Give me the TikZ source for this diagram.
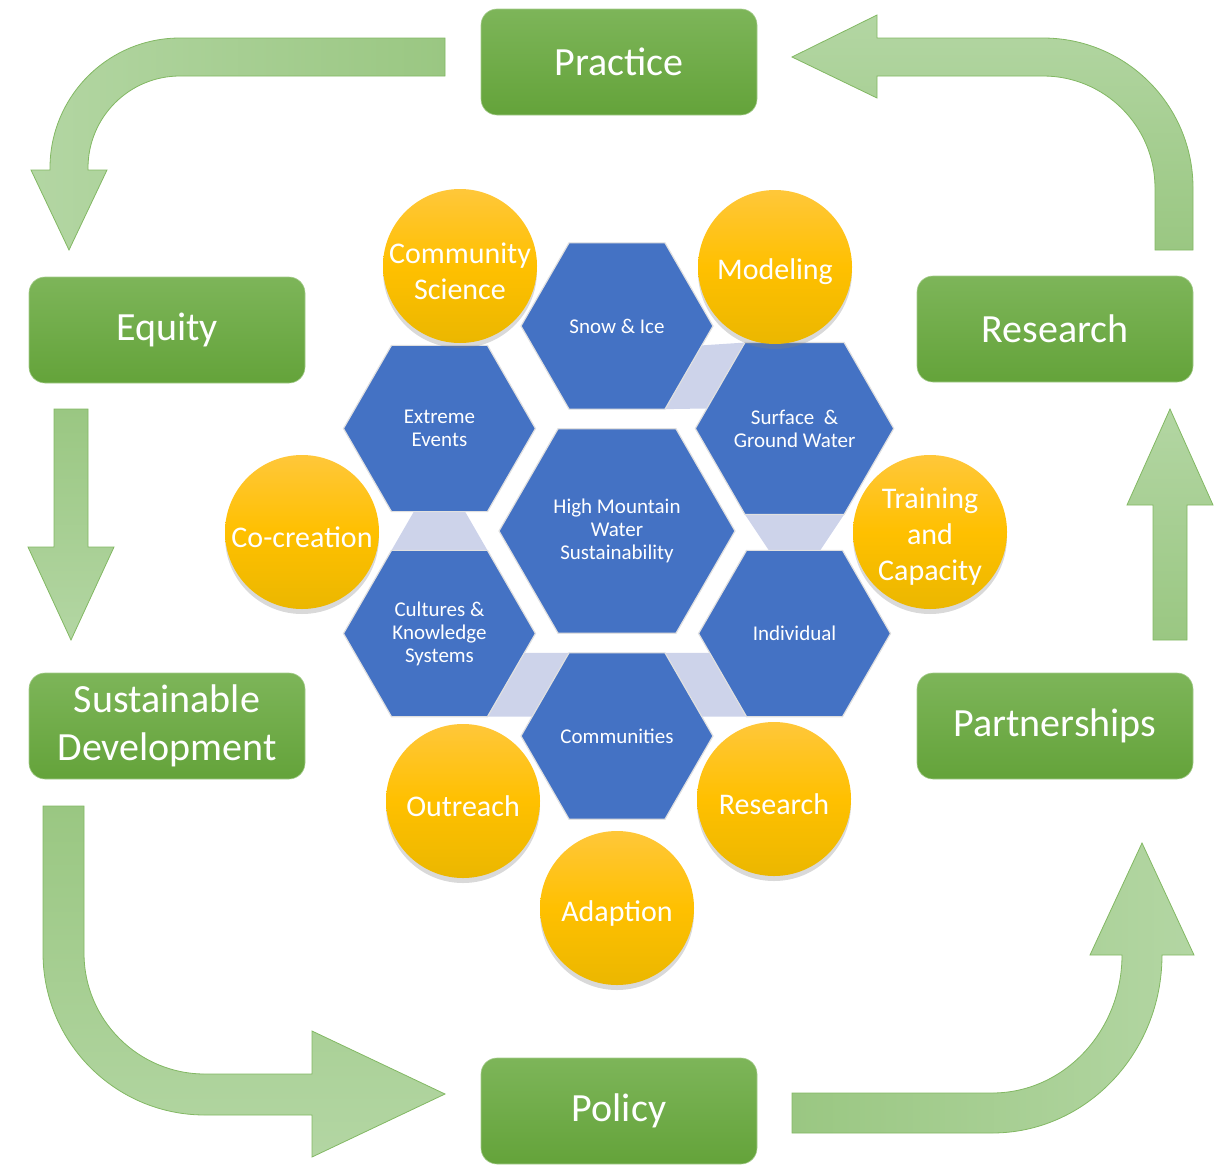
\documentclass[tikz,border=0pt]{standalone}
\usepackage{fontspec}
\setmainfont{Carlito}
\usepackage{tikz}
\usetikzlibrary{positioning,shapes,shadows,calc}
\pgfdeclarelayer{background}
\pgfdeclarelayer{foreground}
\pgfsetlayers{background,main,foreground}
\definecolor{boxtop}{HTML}{7DB559}
\definecolor{boxbot}{HTML}{64A33A}
\definecolor{hexblue}{HTML}{4472C4}
\definecolor{linkblue}{HTML}{CDD3EA}
\definecolor{goldtop}{HTML}{FFC73A}
\definecolor{goldmid}{HTML}{FFC000}
\definecolor{goldbot}{HTML}{EBB700}
\definecolor{arrowdark}{HTML}{9AC782}
\definecolor{arrowlight}{HTML}{B3D6A3}
\definecolor{arrowline}{HTML}{82B863}

\begin{document}
\begin{tikzpicture}[x=1pt,y=-1pt,
    stage/.style={rectangle, rounded corners=16pt, minimum width=276pt, minimum height=106pt,
        top color=boxtop, bottom color=boxbot, draw=boxtop!70!white, line width=0.6pt,
        text=white, align=center, font=\fontsize{40}{48}\selectfont},
    hexa/.style={regular polygon, regular polygon sides=6, minimum size=192pt, inner sep=0pt, outer sep=0pt,
        fill=hexblue, draw=white!88!black, line width=1.2pt, text=white, align=center,
        font=\fontsize{21}{23}\selectfont},
    hexlink/.style={fill=linkblue},
    ball/.style={circle, minimum size=154pt, inner sep=0pt, top color=goldtop, bottom color=goldbot, middle color=goldmid,
        drop shadow={shadow xshift=0pt, shadow yshift=-5pt, opacity=0.3}},
    balltext/.style={text=white, align=center, yshift=-5pt, font=\fontsize{30}{36}\selectfont},
    bigarrow/.style={draw=arrowline, line width=0.8pt, line join=miter}]
\useasboundingbox (0,0) rectangle (1230,1167);

\node[stage] (practice) at (619,62) {Practice};
\node[stage] (equity) at (167,330) {Equity};
\node[stage] (research) at (1055,329) {Research};
\node[stage] (sustdev) at (167,726) {Sustainable\\Development};
\node[stage] (partner) at (1055,726) {Partnerships};
\node[stage] (policy) at (619,1111) {Policy};

\path[bigarrow, left color=arrowlight, right color=arrowdark]
    (445,38) -- (180,38) arc[start angle=270, end angle=180, radius=130] -- (50,170) -- (31,170) -- (69,250)
    -- (107,170) -- (88,170) -- (88,168) arc[start angle=180, end angle=270, radius=92] -- (445,76) -- cycle;
\path[bigarrow, top color=arrowdark, bottom color=arrowlight]
    (54,409) -- (88,409) -- (88,547) -- (114,547) -- (71,640) -- (28,547) -- (54,547) -- cycle;
\path[bigarrow, top color=arrowdark, bottom color=arrowlight]
    (43,806) -- (43,953) arc[start angle=180, end angle=90, radius=162] -- (312,1115) -- (312,1157) -- (445,1094)
    -- (312,1031) -- (312,1074) -- (205,1074) arc[start angle=90, end angle=180, radius=121] -- (84,806) -- cycle;
\path[bigarrow, left color=arrowdark, right color=arrowlight]
    (792,1093) -- (992,1093) arc[start angle=90, end angle=0, x radius=130, y radius=138] -- (1090,955) -- (1142,843)
    -- (1194,955) -- (1162,955) arc[start angle=0, end angle=90, x radius=170, y radius=178] -- (792,1133) -- cycle;
\path[bigarrow, bottom color=arrowdark, top color=arrowlight]
    (1153,640) -- (1153,505) -- (1127,505) -- (1170,409) -- (1213,505) -- (1187,505) -- (1187,640) -- cycle;
\path[bigarrow, bottom color=arrowdark, top color=arrowlight]
    (1155,250) -- (1155,188) arc[start angle=0, end angle=-90, radius=112] -- (877,76) -- (877,98) -- (792,57)
    -- (877,15) -- (877,38) -- (1043,38) arc[start angle=-90, end angle=0, radius=150] -- (1193,250) -- cycle;

\node[hexa, minimum size=236pt] (hmw) at (617,531) {High Mountain\\Water\\Sustainability};
\node[hexa] (snow) at ($(hmw)+(-90:205)$) {Snow \& Ice};
\node[hexa] (surface) at ($(hmw)+(-30:205)$) {Surface \ \&\\Ground Water};
\node[hexa] (individual) at ($(hmw)+(30:205)$) {Individual};
\node[hexa] (comm) at ($(hmw)+(90:205)$) {Communities};
\node[hexa] (cultures) at ($(hmw)+(150:205)$) {Cultures \&\\Knowledge\\Systems};
\node[hexa] (extreme) at ($(hmw)+(210:205)$) {Extreme\\Events};

\begin{pgfonlayer}{background}
\path[hexlink] ($(snow.0)!0.233!(snow.300)$) -- (surface.120) -- ($(surface.120)!0.767!(surface.180)$) -- (snow.300) -- cycle;
\path[hexlink] ($(cultures.0)!0.233!(cultures.300)$) -- (comm.120) -- ($(comm.120)!0.767!(comm.180)$) -- (cultures.300) -- cycle;
\path[hexlink] ($(individual.180)!0.233!(individual.240)$) -- (comm.60) -- ($(comm.60)!0.767!(comm.0)$) -- (individual.240) -- cycle;
\path[hexlink] ($(extreme.240)!0.233!(extreme.300)$) -- ($(extreme.240)!0.767!(extreme.300)$) -- (cultures.60) -- (cultures.120) -- cycle;
\path[hexlink] (surface.240) -- (surface.300) -- ($(individual.120)!0.767!(individual.60)$) -- ($(individual.120)!0.233!(individual.60)$) -- cycle;
\end{pgfonlayer}

\node[ball, label={[balltext]center:Community\\Science}] (commsci) at (460,266) {};
\node[ball, label={[balltext]center:Modeling}] (modeling) at (775,267) {};
\node[ball, label={[balltext]center:Co-creation}] (cocreate) at (302,532) {};
\node[ball, label={[balltext]center:Training\\and\\Capacity}] (training) at (930,532) {};
\node[ball, label={[balltext]center:Outreach}] (outreach) at (463,801) {};
\node[ball, label={[balltext]center:Research}] (resball) at (774,799) {};
\node[ball, label={[balltext]center:Adaption}] (adaption) at (617,908) {};
\end{tikzpicture}
\end{document}
